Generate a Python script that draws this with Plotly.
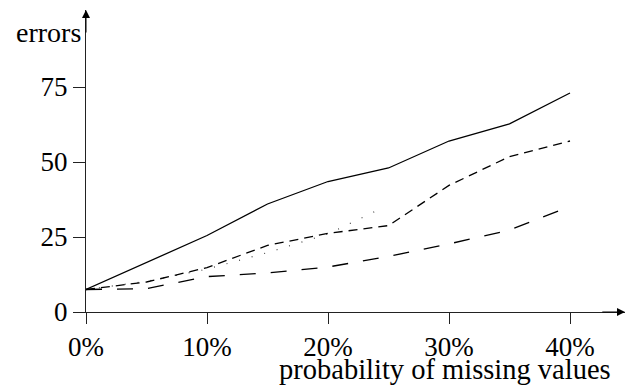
import plotly.graph_objects as go

x_pct = [0, 5, 10, 15, 20, 25, 30, 35, 40]
solid = [7.5, 16.5, 25.5, 36.0, 43.5, 48.0, 57.0, 62.7, 73.0]
short_dash = [7.5, 10.0, 14.8, 22.2, 26.2, 28.8, 42.2, 51.8, 57.0]
long_dash = [7.5, 7.8, 11.8, 13.0, 15.0, 18.5, 22.7, 27.3, 35.2]
dotted_x = [0, 5, 10, 15, 20, 24.3]
dotted = [7.5, 10.2, 14.3, 19.8, 26.0, 34.3]

x_ticks = [0, 10, 20, 30, 40]
x_ticktext = ["0%", "10%", "20%", "30%", "40%"]
y_ticks = [0, 25, 50, 75]
y_ticktext = ["0", "25", "50", "75"]

FONT = "Liberation Serif"
W, H = 629, 385
ML, MR, MT, MB = 86, 4, 10, 73
PX_PER_X = 12.1
PX_PER_Y = 3.0
xmax = (W - ML - MR) / PX_PER_X
ymax = (H - MT - MB) / PX_PER_Y

fig = go.Figure()
fig.add_trace(go.Scatter(x=x_pct, y=solid, mode="lines",
                         line=dict(color="black", width=1.3)))
fig.add_trace(go.Scatter(x=dotted_x, y=dotted, mode="lines",
                         line=dict(color="#444", width=1.2, dash="1px,12px")))
fig.add_trace(go.Scatter(x=x_pct, y=short_dash, mode="lines",
                         line=dict(color="black", width=1.3, dash="9px,6px")))
fig.add_trace(go.Scatter(x=x_pct, y=long_dash, mode="lines",
                         line=dict(color="black", width=1.3, dash="16px,15px")))

fig.update_layout(
    width=W, height=H,
    margin=dict(l=ML, r=MR, t=MT, b=MB),
    paper_bgcolor="white", plot_bgcolor="white",
    showlegend=False,
    font=dict(family=FONT, size=27, color="black"),
    xaxis=dict(range=[0, xmax], tickvals=x_ticks, ticktext=x_ticktext,
               ticks="outside", ticklen=11, tickwidth=1, tickcolor="#222",
               showline=True, linecolor="#222", linewidth=1,
               showgrid=False, zeroline=False, fixedrange=True),
    yaxis=dict(range=[0, ymax], tickvals=y_ticks, ticktext=y_ticktext,
               ticks="outside", ticklen=12, tickwidth=1, tickcolor="#222",
               showline=True, linecolor="#222", linewidth=1,
               showgrid=False, zeroline=False, fixedrange=True),
)

# arrowheads at the axis ends
fig.add_annotation(x=xmax, y=0, ax=xmax - 2, ay=0, xref="x", yref="y",
                   axref="x", ayref="y", text="", showarrow=True,
                   arrowhead=2, arrowsize=1.6, arrowwidth=1, arrowcolor="black")
fig.add_annotation(x=0, y=ymax, ax=0, ay=ymax - 8, xref="x", yref="y",
                   axref="x", ayref="y", text="", showarrow=True,
                   arrowhead=2, arrowsize=1.6, arrowwidth=1, arrowcolor="black")

# axis titles
fig.add_annotation(text="errors", xref="paper", yref="paper",
                   x=-0.006, y=0.927, xanchor="right", yanchor="middle",
                   showarrow=False, font=dict(family=FONT, size=28))
fig.add_annotation(text="probability of missing values", xref="paper", yref="paper",
                   x=0.978, y=-0.192, xanchor="right", yanchor="middle",
                   showarrow=False, font=dict(family=FONT, size=28.5))

fig.write_html("out.html")
